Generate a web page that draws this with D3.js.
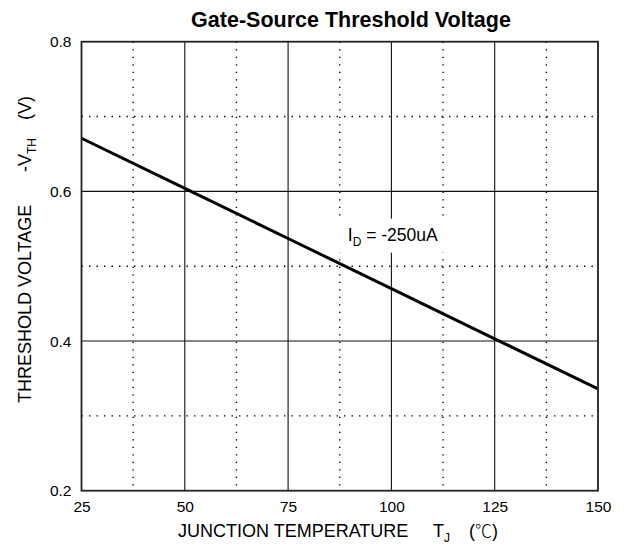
<!DOCTYPE html>
<html>
<head>
<meta charset="utf-8">
<script src="https://cdn.jsdelivr.net/npm/d3@7"></script>
<style>
  html, body { margin: 0; padding: 0; background: #fff; }
  svg { display: block; font-family: "Liberation Sans", Arial, sans-serif; }
</style>
</head>
<body>
<svg id="chart" width="627" height="549"></svg>
<script>
// Junction temperature (°C) and gate-source threshold voltage -VTH (V)
const temperature = [25, 50, 75, 100, 125, 150];
const thresholdV  = [0.671, 0.604, 0.537, 0.470, 0.403, 0.336];

// Axis ticks
const xTicks = [25, 50, 75, 100, 125, 150];
const yTicks = [0.2, 0.4, 0.6, 0.8];
const xMinor = [37.5, 62.5, 87.5, 112.5, 137.5];
const yMinor = [0.3, 0.5, 0.7];

const titleText = "Gate-Source Threshold Voltage";
const annotation = { main: "I", sub: "D", rest: " = -250uA", t: 87.5, v: 0.5 };

const svg = d3.select("#chart");
const margin = { left: 81.5, right: 29, top: 41.7, bottom: 58.3 };
const W = 627, H = 549;

const x = d3.scaleLinear().domain([25, 150]).range([margin.left, W - margin.right]);
const y = d3.scaleLinear().domain([0.2, 0.8]).range([H - margin.bottom, margin.top]);

const plot = svg.append("g");

// dotted minor grid
plot.selectAll("line.xminor").data(xMinor).join("line")
  .attr("x1", d => x(d)).attr("x2", d => x(d))
  .attr("y1", y(0.8)).attr("y2", y(0.2))
  .attr("stroke", "#000").attr("stroke-width", 1.4)
  .attr("stroke-dasharray", "1.4,6.1");
plot.selectAll("line.yminor").data(yMinor).join("line")
  .attr("x1", x(25)).attr("x2", x(150))
  .attr("y1", d => y(d)).attr("y2", d => y(d))
  .attr("stroke", "#000").attr("stroke-width", 1.4)
  .attr("stroke-dasharray", "1.4,6.1");

// solid major grid
plot.selectAll("line.xmajor").data(xTicks.slice(1, -1)).join("line")
  .attr("x1", d => x(d)).attr("x2", d => x(d))
  .attr("y1", y(0.8)).attr("y2", y(0.2))
  .attr("stroke", "#111").attr("stroke-width", 1.1);
plot.selectAll("line.ymajor").data(yTicks.slice(1, -1)).join("line")
  .attr("x1", x(25)).attr("x2", x(150))
  .attr("y1", d => y(d)).attr("y2", d => y(d))
  .attr("stroke", "#111").attr("stroke-width", 1.1);

// annotation box (white background over the grid)
const ann = svg.append("g");
const annX = x(annotation.t) + 8;
const annY = y(annotation.v) - 25.5;
ann.append("rect")
  .attr("x", x(annotation.t) - 1.5).attr("y", annY - 22)
  .attr("width", 108).attr("height", 34)
  .attr("fill", "#fff");

// curve
const line = d3.line().x((d, i) => x(temperature[i])).y(d => y(d));
plot.append("path")
  .datum(thresholdV)
  .attr("d", line)
  .attr("fill", "none")
  .attr("stroke", "#000")
  .attr("stroke-width", 3);

const annText = ann.append("text")
  .attr("x", annX).attr("y", annY)
  .attr("font-size", 17.5).attr("fill", "#000");
annText.append("tspan").text(annotation.main);
annText.append("tspan").attr("font-size", 12).attr("dy", 5).text(annotation.sub);
annText.append("tspan").attr("dy", -5).text(annotation.rest);

// frame
svg.append("rect")
  .attr("x", x(25)).attr("y", y(0.8))
  .attr("width", x(150) - x(25)).attr("height", y(0.2) - y(0.8))
  .attr("fill", "none").attr("stroke", "#222").attr("stroke-width", 1.8);

// axes (labels only, ticks are the grid)
const xAxis = svg.append("g")
  .attr("transform", `translate(0,${y(0.2)})`)
  .call(d3.axisBottom(x).tickValues(xTicks).tickSize(0).tickPadding(10).tickFormat(d3.format("d")));
xAxis.select(".domain").remove();
xAxis.selectAll("text").attr("font-size", 15.5).attr("fill", "#000")
  .attr("font-family", "'Liberation Sans', Arial, sans-serif");

const yAxis = svg.append("g")
  .attr("transform", `translate(${x(25)},0)`)
  .call(d3.axisLeft(y).tickValues(yTicks).tickSize(0).tickPadding(10).tickFormat(d3.format(".1f")));
yAxis.select(".domain").remove();
yAxis.selectAll("text").attr("font-size", 15.5).attr("fill", "#000")
  .attr("font-family", "'Liberation Sans', Arial, sans-serif");

// title
svg.append("text")
  .attr("x", 351).attr("y", 27)
  .attr("text-anchor", "middle")
  .attr("font-size", 21.5).attr("font-weight", "bold")
  .text(titleText);

// x axis title
const xl = svg.append("g").attr("font-size", 18).attr("fill", "#000");
xl.append("text").attr("x", 178).attr("y", 537).text("JUNCTION TEMPERATURE");
const tj = xl.append("text").attr("x", 433).attr("y", 537);
tj.append("tspan").text("T");
tj.append("tspan").attr("font-size", 12).attr("dy", 5).text("J");
const unit = xl.append("text").attr("x", 469).attr("y", 537);
unit.append("tspan").text("(");
unit.append("tspan")
  .attr("font-family", "'Noto Sans CJK SC', 'Noto Sans CJK JP', sans-serif")
  .attr("font-weight", 300).attr("font-size", 17)
  .text("℃");
unit.append("tspan").text(")");

// y axis title (rotated)
const yl = svg.append("g").attr("font-size", 18).attr("fill", "#000");
yl.append("text").attr("transform", "translate(31,403) rotate(-90)").text("THRESHOLD VOLTAGE");
const vth = yl.append("text").attr("transform", "translate(31,172) rotate(-90)");
vth.append("tspan").text("-V");
vth.append("tspan").attr("font-size", 12).attr("dy", 5).text("TH");
yl.append("text").attr("transform", "translate(31,120) rotate(-90)").text("(V)");
</script>
</body>
</html>
